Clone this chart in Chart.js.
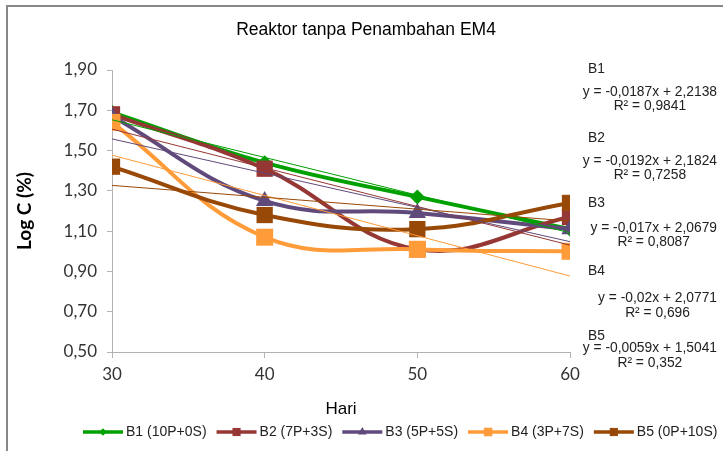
<!DOCTYPE html>
<html>
<head>
<meta charset="utf-8">
<script src="https://cdn.jsdelivr.net/npm/chart.js@4.4.1/dist/chart.umd.min.js"></script>
<style>
  html, body { margin: 0; padding: 0; background: #fff; }
</style>
</head>
<body>
<canvas id="chart" width="723" height="451"></canvas>
<script>
// data
const days = [30, 40, 50, 60];
const seriesNames = ['B1 (10P+0S)', 'B2 (7P+3S)', 'B3 (5P+5S)', 'B4 (3P+7S)', 'B5 (0P+10S)'];
const shortNames = ['B1', 'B2', 'B3', 'B4', 'B5'];
const b1 = [1.69, 1.44, 1.27, 1.11];
const b2 = [1.68, 1.41, 1.01, 1.17];
const b3 = [1.67, 1.25, 1.19, 1.11];
const b4 = [1.64, 1.07, 1.01, 1.00];
const b5 = [1.42, 1.18, 1.11, 1.24];
// linear trendlines as printed on the chart
const slopes = [-0.0187, -0.0192, -0.017, -0.02, -0.0059];
const intercepts = [2.2138, 2.1824, 2.0679, 2.0771, 1.5041];
const rSquared = [0.9841, 0.7258, 0.8087, 0.696, 0.352];
const yMin = 0.5, yMax = 1.9, yStep = 0.2;
const xMin = 30, xMax = 60, xStep = 10;

const values = [b1, b2, b3, b4, b5];
const colors = ['#00a000', '#953735', '#604a7b', '#ff9b38', '#984807'];
const markers = ['rectRot', 'rect', 'triangle', 'rect', 'rect'];
const markerSize = [7.5, 11.5, 10, 12, 11.5];

const comma = v => String(v).replace('.', ',');

const datasets = [];
values.forEach((vals, i) => {
  datasets.push({
    label: seriesNames[i],
    data: days.map((d, j) => ({ x: d, y: vals[j] })),
    showLine: true,
    borderColor: colors[i],
    borderWidth: 4,
    tension: 0.4,
    pointStyle: markers[i],
    pointRadius: markerSize[i],
    pointBackgroundColor: colors[i],
    pointBorderWidth: 0,
    order: 10 - i
  });
});
values.forEach((vals, i) => {
  datasets.push({
    label: 'trend ' + shortNames[i],
    data: [xMin, xMax].map(x => ({ x: x, y: slopes[i] * x + intercepts[i] })),
    showLine: true,
    borderColor: colors[i],
    borderWidth: 1,
    tension: 0,
    pointRadius: 0,
    order: 5 - i
  });
});

const frame = {
  id: 'frame',
  beforeDraw(chart) {
    const ctx = chart.ctx;
    ctx.save();
    ctx.fillStyle = '#fff';
    ctx.fillRect(0, 0, chart.width, chart.height);
    ctx.strokeStyle = '#888';
    ctx.lineWidth = 2;
    ctx.beginPath();
    ctx.moveTo(7, chart.height);
    ctx.lineTo(7, 6);
    ctx.lineTo(chart.width, 6);
    ctx.stroke();
    ctx.restore();
  }
};

const texts = {
  id: 'texts',
  afterDraw(chart) {
    const ctx = chart.ctx;
    ctx.save();
    // title
    ctx.fillStyle = '#000';
    ctx.font = '17.5px "Liberation Sans", Arial, sans-serif';
    ctx.textAlign = 'center';
    ctx.textBaseline = 'middle';
    ctx.fillText('Reaktor tanpa Penambahan EM4', 366, 30);

    // trendline labels
    const nameY = [73, 142, 207, 275, 340];
    const eqY = [96, 165, 232, 302, 352];
    const rY = [109.5, 179, 246, 317, 367];
    ctx.fillStyle = '#222';
    ctx.font = '13.8px "Liberation Sans", Arial, sans-serif';
    ctx.textBaseline = 'alphabetic';
    for (let i = 0; i < 5; i++) {
      const sign = intercepts[i] >= 0 ? ' + ' : ' - ';
      const eq = 'y = ' + comma(slopes[i]) + 'x' + sign + comma(Math.abs(intercepts[i]));
      const w = ctx.measureText(eq).width;
      const cx = 717 - w / 2;
      ctx.textAlign = 'left';
      ctx.fillText(shortNames[i], 588, nameY[i]);
      ctx.textAlign = 'center';
      ctx.fillText(eq, cx, eqY[i]);
      ctx.fillText('R\u00b2 = ' + comma(rSquared[i]), cx, rY[i]);
    }

    // legend
    ctx.font = '14px "Liberation Sans", Arial, sans-serif';
    ctx.textBaseline = 'middle';
    ctx.textAlign = 'left';
    let x = 83;
    const ly = 432;
    for (let i = 0; i < 5; i++) {
      ctx.strokeStyle = colors[i];
      ctx.lineWidth = 3.5;
      ctx.beginPath();
      ctx.moveTo(x, ly);
      ctx.lineTo(x + 40, ly);
      ctx.stroke();
      ctx.fillStyle = colors[i];
      Chart.helpers.drawPoint(ctx, {
        pointStyle: markers[i], radius: markerSize[i] * 0.5, rotation: 0, borderWidth: 0
      }, x + 20, ly);
      ctx.fillStyle = '#222';
      ctx.fillText(seriesNames[i], x + 43, ly);
      x += 43 + ctx.measureText(seriesNames[i]).width + 10;
    }
    ctx.restore();
  }
};

new Chart(document.getElementById('chart'), {
  type: 'scatter',
  data: { datasets: datasets },
  options: {
    responsive: false,
    animation: false,
    devicePixelRatio: 1,
    layout: { padding: { left: 8, right: 153, top: 70, bottom: 29 } },
    plugins: {
      legend: { display: false },
      tooltip: { enabled: false },
      title: { display: false }
    },
    scales: {
      x: {
        type: 'linear',
        min: xMin,
        max: xMax,
        afterFit(scale) { scale.height = 70; },
        ticks: {
          stepSize: xStep,
          color: '#333',
          padding: 6,
          font: { family: 'Lato', size: 17 }
        },
        grid: { drawOnChartArea: false, tickLength: 6, color: '#b3b3b3' },
        border: { color: '#b3b3b3' },
        title: {
          display: true,
          text: 'Hari',
          color: '#000',
          padding: { top: 0, bottom: 2 },
          font: { family: 'Liberation Sans', size: 17 }
        }
      },
      y: {
        min: yMin,
        max: yMax,
        afterFit(scale) { scale.width = 104; },
        ticks: {
          stepSize: yStep,
          color: '#333',
          padding: 10,
          font: { family: 'Lato', size: 17 },
          callback: v => v.toFixed(2).replace('.', ',')
        },
        grid: { drawOnChartArea: false, tickLength: 5, color: '#b3b3b3' },
        border: { color: '#b3b3b3' },
        title: {
          display: true,
          text: 'Log C (%)',
          color: '#000',
          padding: { top: 5, bottom: 0 },
          font: { family: 'Lato', size: 19, weight: 'bold' }
        }
      }
    }
  },
  plugins: [frame, texts]
});
</script>
</body>
</html>
